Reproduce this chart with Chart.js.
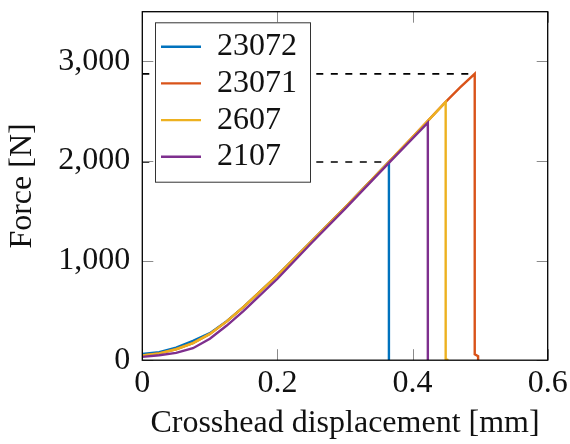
<!DOCTYPE html>
<html>
<head>
<meta charset="utf-8">
<script src="https://cdn.jsdelivr.net/npm/chart.js@4.4.1/dist/chart.umd.min.js"></script>
<style>
  html, body { margin: 0; padding: 0; background: #fff; }
  #wrap { width: 570px; height: 444px; }
</style>
</head>
<body>
<div id="wrap"><canvas id="forceChart" width="570" height="444"></canvas></div>
<script>
// specimen names (legend order)
const specimens = ['23072', '23071', '2607', '2107'];
const colors = ['#0072BD', '#D95319', '#EDB120', '#7E2F8E'];

// crosshead displacement [mm] / force [N] per specimen
const disp23072 = [0, 0.025, 0.05, 0.075, 0.1, 0.125, 0.15, 0.2, 0.25, 0.3, 0.365, 0.365];
const force23072 = [64, 80, 127, 195, 272, 392, 536, 851, 1192, 1532, 1991, 0];

const disp23071 = [0, 0.025, 0.05, 0.075, 0.1, 0.125, 0.15, 0.2, 0.25, 0.3, 0.365, 0.4, 0.449, 0.47, 0.492, 0.492, 0.497, 0.497];
const force23071 = [47, 69, 110, 172, 264, 390, 536, 851, 1192, 1532, 1991, 2240, 2594, 2738, 2876, 60, 40, 0];

const disp2607 = [0, 0.025, 0.05, 0.075, 0.1, 0.125, 0.15, 0.2, 0.25, 0.3, 0.365, 0.4, 0.449, 0.449, 0.453];
const force2607 = [47, 69, 110, 172, 264, 390, 536, 851, 1192, 1532, 1991, 2240, 2594, 10, 0];

const disp2107 = [0, 0.025, 0.05, 0.075, 0.1, 0.125, 0.15, 0.2, 0.25, 0.3, 0.365, 0.4226, 0.4226];
const force2107 = [33, 50, 73, 120, 215, 348, 496, 818, 1175, 1520, 1982, 2386, 0];

// dashed guide lines at the lowest and highest peak
const peakDisp = [0.365, 0.492];
const peakForce = [1991, 2876];

// axes
const xTicks = [0, 0.2, 0.4, 0.6];
const yTicks = [0, 1000, 2000, 3000];
const xMax = 0.6;
const yMax = 3500;

const FONT = 'Liberation Serif';
const SIZE = 32;
const TEXT = '#111';

const toPoints = (xs, ys) => xs.map((x, i) => ({ x: x, y: ys[i] }));

const series = [
  toPoints(disp23072, force23072),
  toPoints(disp23071, force23071),
  toPoints(disp2607, force2607),
  toPoints(disp2107, force2107)
];

const datasets = series.map((pts, i) => ({
  label: specimens[i],
  data: pts,
  borderColor: colors[i],
  backgroundColor: colors[i],
  borderWidth: 2.4,
  pointRadius: 0,
  tension: 0,
  fill: false,
  order: 4 - i // last specimen drawn on top
}));

peakDisp.forEach((d, i) => {
  datasets.push({
    label: 'peak' + i,
    data: [{ x: 0, y: peakForce[i] }, { x: d, y: peakForce[i] }],
    borderColor: '#000',
    borderWidth: 1.6,
    borderDash: [7, 7.5],
    pointRadius: 0,
    fill: false,
    order: 10
  });
});

// no extra room for edge labels, the plot box is placed by layout.padding
const noEdgePadding = s => {
  s.paddingTop = 0;
  s.paddingBottom = 0;
  s.paddingLeft = 0;
  s.paddingRight = 0;
};

// ticks inside the frame on all four sides + black frame + boxed legend on top
const framePlugin = {
  id: 'framePlugin',
  afterLayout(chart) {
    const lg = chart.legend;
    lg.left = chart.chartArea.left + 14;
    lg.top = chart.chartArea.top + 14.3;
  },
  afterDatasetsDraw(chart) {
    const { ctx, chartArea: a, scales } = chart;
    const tl = 11;
    ctx.save();
    ctx.strokeStyle = '#8a8a8a';
    ctx.lineWidth = 1;
    ctx.beginPath();
    xTicks.forEach(v => {
      const px = Math.round(scales.x.getPixelForValue(v)) + 0.5;
      ctx.moveTo(px, a.bottom); ctx.lineTo(px, a.bottom - tl);
      ctx.moveTo(px, a.top); ctx.lineTo(px, a.top + tl);
    });
    yTicks.forEach(v => {
      const py = Math.round(scales.y.getPixelForValue(v)) + 0.5;
      ctx.moveTo(a.left, py); ctx.lineTo(a.left + tl, py);
      ctx.moveTo(a.right, py); ctx.lineTo(a.right - tl, py);
    });
    ctx.stroke();

    ctx.strokeStyle = '#000';
    ctx.lineWidth = 1.3;
    ctx.strokeRect(a.left, a.top, a.right - a.left, a.bottom - a.top);

    // legend box
    const lg = chart.legend;
    const bx = lg.left - 1.3, by = lg.top - 3.7, bw = 155, bh = 159.4;
    ctx.fillStyle = '#fff';
    ctx.fillRect(bx, by, bw, bh);
    ctx.strokeStyle = '#333';
    ctx.lineWidth = 1;
    ctx.strokeRect(bx + 0.5, by + 0.5, bw, bh);
    ctx.restore();
    lg.draw();
  }
};

new Chart(document.getElementById('forceChart'), {
  type: 'line',
  data: { datasets: datasets },
  plugins: [framePlugin],
  options: {
    responsive: false,
    animation: false,
    devicePixelRatio: 1,
    layout: { padding: { top: 11.7, right: 22.3, left: 0, bottom: 0 } },
    plugins: {
      tooltip: { enabled: false },
      legend: {
        position: 'chartArea',
        align: 'start',
        labels: {
          filter: item => item.datasetIndex < specimens.length,
          sort: (a, b) => a.datasetIndex - b.datasetIndex,
          usePointStyle: true,
          pointStyle: 'line',
          pointStyleWidth: 40,
          padding: 4.7,
          color: TEXT,
          font: { family: FONT, size: SIZE }
        }
      }
    },
    scales: {
      x: {
        type: 'linear',
        min: 0,
        max: xMax,
        afterFit: s => { s.height = 83.8; noEdgePadding(s); },
        afterBuildTicks: s => { s.ticks = xTicks.map(v => ({ value: v })); },
        grid: { display: false, drawTicks: false },
        border: { display: false },
        ticks: {
          padding: 4,
          maxRotation: 0,
          color: TEXT,
          font: { family: FONT, size: SIZE },
          callback: v => String(+(+v).toFixed(1))
        },
        title: {
          display: true,
          text: 'Crosshead displacement [mm]',
          color: TEXT,
          font: { family: FONT, size: SIZE },
          padding: { top: 0, bottom: 1 }
        }
      },
      y: {
        type: 'linear',
        min: 0,
        max: yMax,
        afterFit: s => { s.width = 142.3; noEdgePadding(s); },
        afterBuildTicks: s => { s.ticks = yTicks.map(v => ({ value: v })); },
        grid: { display: false, drawTicks: false },
        border: { display: false },
        ticks: {
          padding: 12,
          color: TEXT,
          font: { family: FONT, size: SIZE },
          callback: v => v.toLocaleString('en-US')
        },
        title: {
          display: true,
          text: 'Force [N]',
          color: TEXT,
          font: { family: FONT, size: SIZE },
          padding: { top: 3, bottom: 0 }
        }
      }
    }
  }
});
</script>
</body>
</html>
